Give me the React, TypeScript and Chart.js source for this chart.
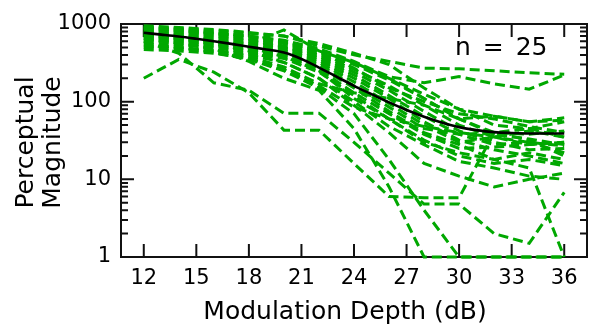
import React, { useEffect, useRef } from 'react';
import { Chart, registerables } from 'chart.js';
Chart.register(...registerables);

// Modulation depths (dB) at which each subject was measured
const depths = [12, 14, 16, 18, 20, 22, 24, 26, 28, 30, 32, 34, 36];

// Individual subjects' perceptual magnitude (n = 25)
const s01 = [920, 880, 820, 760, 700, 520, 400, 330, 270, 265, 250, 235, 225];
const s02 = [880, 840, 760, 700, 620, 480, 330, 210, 175, 210, 170, 145, 220];
const s03 = [700, 650, 600, 560, 840, 450, 320, 200, 125, 80, 65, 55, 62];
const s04 = [200, 350, 240, 130, 43, 43, 16, 6, 5.8, 5.8, 40, 45, 35];
const s05 = [600, 420, 175, 140, 71, 71, 30, 12, 4.8, 4.8, 2, 1.5, 6.8];
const s06 = [650, 560, 480, 330, 200, 140, 45, 8, 1, 1, 1, 1, 1];
const s07 = [550, 500, 430, 350, 250, 150, 70, 18, 4, 1, 1, 1, 1];
const s08 = [800, 720, 620, 500, 380, 250, 110, 60, 30, 22, 18, 14, 1];
const s09 = [700, 640, 560, 450, 320, 200, 90, 40, 16, 11, 8, 10, 12];
const s10 = [950, 900, 850, 780, 700, 560, 420, 300, 150, 80, 50, 45, 55];
const s11 = [900, 860, 780, 700, 600, 460, 320, 200, 110, 60, 38, 33, 28];
const s12 = [850, 800, 740, 650, 560, 420, 300, 190, 110, 60, 40, 38, 42];
const s13 = [820, 780, 700, 620, 520, 400, 260, 160, 90, 50, 35, 28, 30];
const s14 = [780, 740, 680, 600, 500, 380, 240, 140, 75, 42, 30, 24, 25];
const s15 = [760, 700, 640, 560, 480, 360, 220, 120, 65, 38, 40, 32, 20];
const s16 = [740, 680, 600, 520, 460, 340, 200, 110, 55, 32, 24, 20, 16];
const s17 = [720, 660, 590, 500, 440, 320, 180, 95, 50, 30, 35, 42, 35];
const s18 = [680, 620, 560, 480, 420, 300, 160, 85, 45, 38, 28, 30, 22];
const s19 = [640, 600, 540, 460, 400, 280, 150, 75, 40, 28, 18, 22, 18];
const s20 = [620, 580, 520, 450, 380, 260, 130, 70, 38, 25, 26, 28, 30];
const s21 = [580, 540, 500, 420, 360, 240, 120, 60, 32, 20, 16, 18, 15];
const s22 = [520, 500, 460, 400, 320, 200, 100, 48, 28, 17, 14, 11, 10];
const s23 = [500, 480, 450, 380, 280, 170, 130, 110, 90, 60, 65, 55, 58];
const s24 = [880, 820, 760, 680, 580, 440, 270, 150, 100, 70, 60, 48, 40];
const s25 = [470, 450, 420, 360, 260, 160, 85, 60, 48, 40, 35, 30, 27];
const subjects = [s01, s02, s03, s04, s05, s06, s07, s08, s09, s10, s11, s12, s13,
  s14, s15, s16, s17, s18, s19, s20, s21, s22, s23, s24, s25];

// Group fit (black curve)
const meanDepths = [12, 13, 14, 15, 16, 17, 18, 19, 20, 21, 22, 23, 24, 25, 26, 27, 28, 29, 30, 31, 32, 33, 34, 35, 36];
const meanValues = [770, 730, 690, 645, 600, 555, 510, 470, 430, 355, 275, 210, 160, 125, 98, 78, 64, 54, 47, 43, 40.5, 39.5, 39, 39, 39];

const xTicks = [12, 15, 18, 21, 24, 27, 30, 33, 36];
const yTicks = [1, 10, 100, 1000];
const xTitle = 'Modulation Depth (dB)';
const yTitle = ['Perceptual', 'Magnitude'];
const nLabel = 'n = 25';

const FONT = "'DejaVu Sans', sans-serif";

const framePlugin = {
  id: 'frame',
  beforeDatasetsDraw(chart: any) {
    const { ctx, chartArea: a, scales } = chart;
    const x = scales.x, y = scales.y;
    ctx.save();
    ctx.strokeStyle = '#111';
    ctx.lineWidth = 2;
    ctx.strokeRect(a.left, a.top, a.right - a.left, a.bottom - a.top);
    ctx.beginPath();
    for (const v of xTicks) {
      const px = x.getPixelForValue(v);
      ctx.moveTo(px, a.bottom); ctx.lineTo(px, a.bottom - 13);
      ctx.moveTo(px, a.top); ctx.lineTo(px, a.top + 13);
    }
    for (let d = 1; d < 1000; d *= 10) {
      for (let m = 1; m <= 9; m++) {
        const v = d * m;
        if (v <= 1) continue;
        const len = m === 1 ? 13 : 7;
        const py = y.getPixelForValue(v);
        ctx.moveTo(a.left, py); ctx.lineTo(a.left + len, py);
        ctx.moveTo(a.right, py); ctx.lineTo(a.right - len, py);
      }
    }
    ctx.stroke();
    ctx.restore();
  },
  afterDraw(chart: any) {
    const { ctx, chartArea: a } = chart;
    ctx.save();
    ctx.fillStyle = '#000';
    ctx.font = `25px ${FONT}`;
    ctx.textBaseline = 'alphabetic';
    ctx.textAlign = 'center';
    ctx.fillText(xTitle, 345, 319);
    const cy = (a.top + a.bottom) / 2 + 2;
    ctx.translate(0, cy);
    ctx.rotate(-Math.PI / 2);
    ctx.fillText(yTitle[0], 0, 33);
    ctx.fillText(yTitle[1], 0, 60);
    ctx.restore();
    ctx.save();
    ctx.fillStyle = '#000';
    ctx.font = `25px ${FONT}`;
    ctx.textAlign = 'left';
    ctx.textBaseline = 'alphabetic';
    (ctx as any).wordSpacing = '4px';
    ctx.fillText(nLabel, 455, 55);
    ctx.restore();
  },
};

export default function App() {
  const ref = useRef<HTMLCanvasElement>(null);
  useEffect(() => {
    const datasets: any[] = [
      {
        data: meanDepths.map((d, i) => ({ x: d, y: meanValues[i] })),
        borderColor: '#000',
        borderWidth: 2.6,
        pointRadius: 0,
        cubicInterpolationMode: 'monotone',
        clip: false,
        order: 0,
      },
      ...subjects.map((s) => ({
        data: depths.map((d, i) => ({ x: d, y: s[i] })),
        borderColor: '#00a800',
        borderWidth: 3,
        borderDash: [10, 5],
        pointRadius: 0,
        tension: 0,
        clip: false,
        order: 1,
      })),
    ];
    const chart = new Chart(ref.current!, {
      type: 'line',
      data: { datasets },
      options: {
        animation: false,
        responsive: false,
        layout: { padding: { top: 24, right: 2, left: 0, bottom: 0 } },
        plugins: { legend: { display: false }, tooltip: { enabled: false } },
        scales: {
          x: {
            type: 'linear',
            min: 10.7,
            max: 37.3,
            grid: { display: false, drawTicks: false },
            border: { display: false },
            afterBuildTicks: (s: any) => { s.ticks = xTicks.map((v) => ({ value: v })); },
            afterFit: (s: any) => { s.height = 67; },
            ticks: {
              padding: 9,
              color: '#000',
              maxRotation: 0,
              autoSkip: false,
              font: { family: FONT, size: 21 },
              callback: (v: any) => String(v),
            },
          },
          y: {
            type: 'logarithmic',
            min: 1,
            max: 1000,
            grid: { display: false, drawTicks: false },
            border: { display: false },
            afterBuildTicks: (s: any) => { s.ticks = yTicks.map((v) => ({ value: v })); },
            afterFit: (s: any) => { s.width = 121; },
            ticks: {
              padding: 10,
              color: '#000',
              autoSkip: false,
              font: { family: FONT, size: 21 },
              callback: (v: any) => String(v),
            },
          },
        },
      } as any,
      plugins: [framePlugin],
    });
    return () => chart.destroy();
  }, []);
  return (
    <div style={{ position: 'fixed', left: 0, top: 0, width: 589, height: 324, background: '#fff' }}>
      <canvas ref={ref} width={589} height={324} />
    </div>
  );
}
